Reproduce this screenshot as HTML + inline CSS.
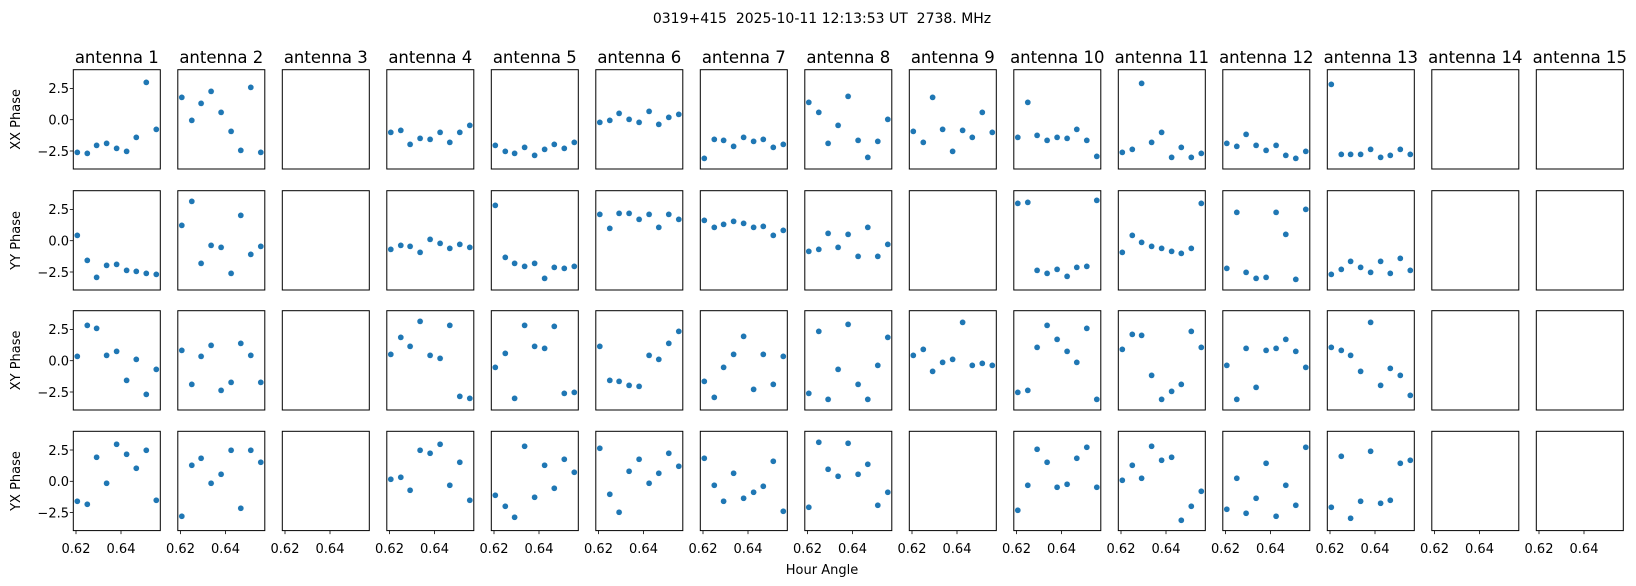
<!DOCTYPE html>
<html><head><meta charset="utf-8"><style>
html,body{margin:0;padding:0;background:#fff;}
svg{display:block;font-family:"DejaVu Sans","Liberation Sans",sans-serif;}
</style></head><body>
<svg id="s" width="1636" height="586" viewBox="0 0 1636 586" xmlns="http://www.w3.org/2000/svg">
<g id="plots"></g>
<g font-size="14" text-anchor="middle" fill="#000">
<text x="822" y="23" style="white-space:pre" xml:space="preserve">0319+415  2025-10-11 12:13:53 UT  2738. MHz</text>
<text x="822" y="574" font-size="13">Hour Angle</text>
</g>
<g font-size="16.5" text-anchor="middle">
<text x="116.8" y="63">antenna 1</text>
<text x="221.3" y="63">antenna 2</text>
<text x="325.8" y="63">antenna 3</text>
<text x="430.3" y="63">antenna 4</text>
<text x="534.8" y="63">antenna 5</text>
<text x="639.3" y="63">antenna 6</text>
<text x="743.8" y="63">antenna 7</text>
<text x="848.3" y="63">antenna 8</text>
<text x="952.8" y="63">antenna 9</text>
<text x="1057.3" y="63">antenna 10</text>
<text x="1161.8" y="63">antenna 11</text>
<text x="1266.3" y="63">antenna 12</text>
<text x="1370.8" y="63">antenna 13</text>
<text x="1475.3" y="63">antenna 14</text>
<text x="1579.8" y="63">antenna 15</text>
</g>
<g font-size="13" text-anchor="end">
<text x="69" y="93.2">2.5</text><text x="69" y="124.5">0.0</text><text x="69" y="155.8">−2.5</text>
<text x="69" y="214.2">2.5</text><text x="69" y="245.5">0.0</text><text x="69" y="276.8">−2.5</text>
<text x="69" y="334.2">2.5</text><text x="69" y="365.5">0.0</text><text x="69" y="396.8">−2.5</text>
<text x="69" y="454.8">2.5</text><text x="69" y="486.1">0.0</text><text x="69" y="517.4">−2.5</text>
</g>
<g font-size="13" text-anchor="middle">
<text transform="translate(20,119.4) rotate(-90)">XX Phase</text>
<text transform="translate(20,240.4) rotate(-90)">YY Phase</text>
<text transform="translate(20,360.4) rotate(-90)">XY Phase</text>
<text transform="translate(20,481) rotate(-90)">YX Phase</text>
</g>
<g font-size="13" text-anchor="middle">
<text x="76" y="553">0.62</text><text x="121" y="553">0.64</text>
<text x="180.5" y="553">0.62</text><text x="225.5" y="553">0.64</text>
<text x="285" y="553">0.62</text><text x="330" y="553">0.64</text>
<text x="389.5" y="553">0.62</text><text x="434.5" y="553">0.64</text>
<text x="494" y="553">0.62</text><text x="539" y="553">0.64</text>
<text x="598.5" y="553">0.62</text><text x="643.5" y="553">0.64</text>
<text x="703" y="553">0.62</text><text x="748" y="553">0.64</text>
<text x="807.5" y="553">0.62</text><text x="852.5" y="553">0.64</text>
<text x="912" y="553">0.62</text><text x="957" y="553">0.64</text>
<text x="1016.5" y="553">0.62</text><text x="1061.5" y="553">0.64</text>
<text x="1121" y="553">0.62</text><text x="1166" y="553">0.64</text>
<text x="1225.5" y="553">0.62</text><text x="1270.5" y="553">0.64</text>
<text x="1330" y="553">0.62</text><text x="1375" y="553">0.64</text>
<text x="1434.5" y="553">0.62</text><text x="1479.5" y="553">0.64</text>
<text x="1539" y="553">0.62</text><text x="1584" y="553">0.64</text>
</g>
</svg>
<script>
(function(){
var NS="http://www.w3.org/2000/svg";
var g=document.getElementById("plots");
var X=[12,42,70,100,130,160,189,219,249];
var tops=[69.7,190.7,310.7,431.3];
var H=99.3,W=87;
var D={
1:[[248,251,227,221,236,245,203,38,179],[134,209,260,224,221,239,242,248,251],[137,44,53,134,122,209,146,251,176],[210,219,78,156,39,69,111,57,207]],
2:[[83,152,101,65,128,185,242,53,248],[104,32,218,164,170,248,74,191,167],[119,221,137,104,239,215,98,134,215],[255,102,81,156,129,57,231,57,93]],
4:[[188,182,224,206,209,188,218,188,167],[176,164,167,185,146,158,173,161,170],[131,80,107,32,134,143,44,257,263],[144,138,177,57,66,39,162,93,207]],
5:[[227,245,251,233,257,239,224,236,218],[44,200,218,227,218,263,230,233,227],[170,128,263,44,107,113,47,248,245],[192,225,258,45,198,102,171,84,123]],
6:[[158,152,131,149,158,125,164,143,134],[71,113,68,68,86,71,110,71,86],[107,209,212,224,227,134,146,98,62],[51,189,243,120,84,156,126,66,105]],
7:[[266,209,212,230,203,215,209,233,224],[89,110,101,92,98,110,107,134,119],[212,260,170,131,77,236,131,221,137],[81,162,210,126,201,183,165,90,240]],
8:[[98,128,221,167,80,212,263,215,149],[182,176,128,170,131,197,110,197,161],[248,62,266,176,41,221,266,164,80],[228,33,114,135,36,129,99,222,183]],
9:[[185,218,83,179,245,182,203,128,188],null,[134,116,182,155,146,35,164,158,164],null],
10:[[203,98,197,212,203,206,179,212,260],[38,35,239,248,236,257,230,227,29],[245,239,110,44,86,122,155,53,266],[237,162,54,93,168,159,81,48,168]],
11:[[248,239,41,218,188,263,233,263,251],[185,134,155,167,173,182,188,173,38],[116,71,74,194,266,242,221,62,110],[147,102,141,45,87,78,267,225,180]],
12:[[221,230,194,227,242,227,257,266,245],[233,65,245,263,260,65,131,266,56],[164,266,113,230,119,113,86,122,170],[234,141,246,201,96,255,162,222,48]],
13:[[44,254,254,254,239,263,257,239,254],[251,236,212,230,245,212,248,203,239],[110,119,134,182,35,224,173,194,254],[228,75,261,210,60,216,207,96,87]]
};
function el(n,a){var e=document.createElementNS(NS,n);for(var k in a)e.setAttribute(k,a[k]);g.appendChild(e);return e;}
for(var c=0;c<15;c++){
 var L=73.3+c*104.5;
 for(var r=0;r<4;r++){
  var T=tops[r];
  var d=D[c+1]&&D[c+1][r];
  if(d){for(var i=0;i<9;i++){
   el("circle",{cx:(L+X[i]/3).toFixed(1),cy:(T+d[i]/3).toFixed(1),r:3.1,fill:"#1f77b4",stroke:"#fff","stroke-width":0.5});
  }}
  el("rect",{x:L,y:T,width:W,height:H,fill:"none",stroke:"#000","stroke-width":1});
  if(c==0){[18.7,50,81.3].forEach(function(o){el("line",{x1:L-3.5,x2:L,y1:T+o,y2:T+o,stroke:"#000","stroke-width":0.8});});}
  if(r==3){[2.7,47.7].forEach(function(o){el("line",{x1:L+o,x2:L+o,y1:T+H,y2:T+H+3.5,stroke:"#000","stroke-width":0.8});});}
 }
}
})();
</script>
</body></html>
